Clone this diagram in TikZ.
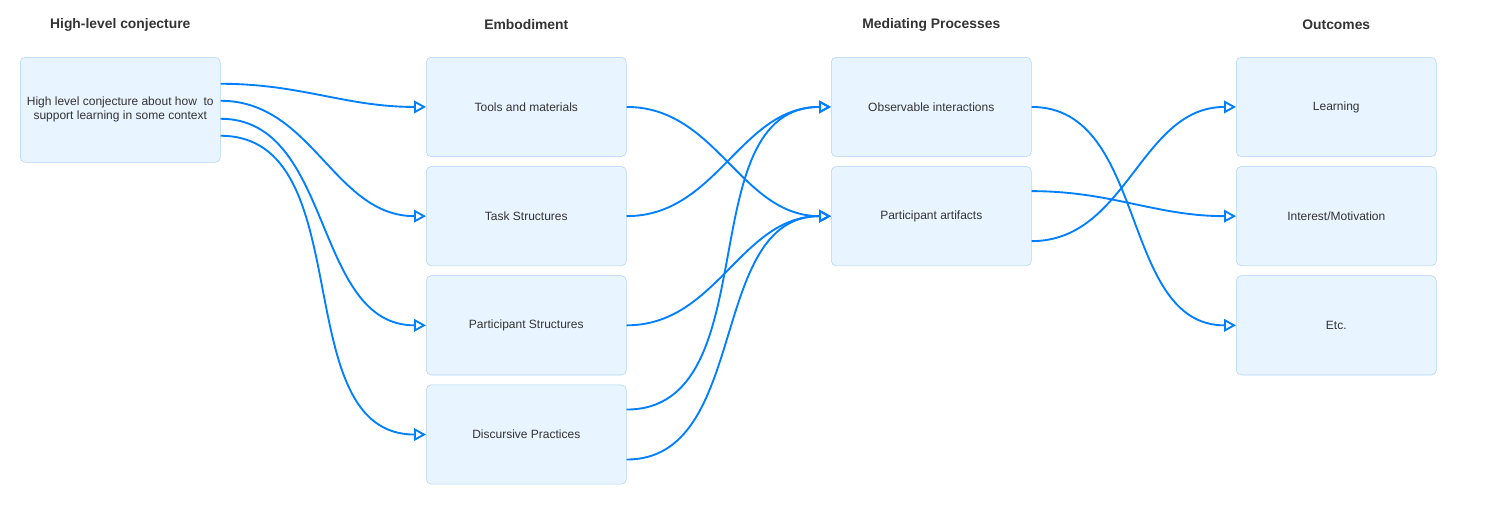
\documentclass[tikz,border=0pt]{standalone}
\usepackage{fontspec}
\setmainfont{Liberation Sans}
\usetikzlibrary{arrows.meta,positioning}
\definecolor{boxfill}{HTML}{E8F4FF}
\definecolor{boxline}{HTML}{B0D4FA}
\definecolor{linkblue}{HTML}{007FFF}
\definecolor{labeltext}{HTML}{333333}
\tikzstyle{conjecture}=[rectangle,rounded corners=3.75pt,draw=boxline,fill=boxfill,thin,
minimum width=150pt,minimum height=78.75pt,inner sep=3pt,align=center,
font=\fontsize{9}{10.5}\selectfont,text=labeltext]
\tikzstyle{design}=[conjecture,minimum height=74.5pt]
\tikzstyle{heading}=[font=\fontsize{10.4}{12}\selectfont\bfseries,text=labeltext]
\tikzstyle{link}=[draw=linkblue,line width=1.4pt,->,out=0,in=180]

\begin{document}
\begin{tikzpicture}[>={Triangle[open,length=9pt,width=9.5pt]},x=0.75pt,y=-0.75pt,node distance=7pt]
    \useasboundingbox (0,0) rectangle (1487,511);

    \node[conjecture,anchor=north west] (conj) at (20,57) {High level conjecture about how\ \ to\\support learning in some context};
    \node[design,anchor=north west] (tools) at (426,57) {Tools and materials};
    \node[design] (task) [below=of tools] {Task Structures};
    \node[design] (pstruct) [below=of task] {Participant Structures};
    \node[design] (disc) [below=of pstruct] {Discursive Practices};
    \node[design,anchor=north west] (observ) at (831,57) {Observable interactions};
    \node[design] (artif) [below=of observ] {Participant artifacts};
    \node[design,anchor=north west] (learn) at (1236,57) {Learning};
    \node[design] (interest) [below=of learn] {Interest/Motivation};
    \node[design] (etc) [below=of interest] {Etc.};

    \node[heading] (h_conj) at (conj.north |- 0,25) {High-level conjecture};
    \node[heading] (h_emb) at (tools.north |- h_conj) {Embodiment};
    \node[heading] (h_med) at (observ.north |- h_conj) {Mediating Processes};
    \node[heading] (h_out) at (learn.north |- h_conj) {Outcomes};

    \draw[link] ([yshift=19.5pt]conj.east) to (tools.west);
    \draw[link] ([yshift=6.75pt]conj.east) to (task.west);
    \draw[link] ([yshift=-6.75pt]conj.east) to (pstruct.west);
    \draw[link] ([yshift=-19.5pt]conj.east) to (disc.west);

    \draw[link] (tools.east) to (artif.west);
    \draw[link] (task.east) to (observ.west);
    \draw[link] (pstruct.east) to (artif.west);
    \draw[link] ([yshift=18.75pt]disc.east) to (observ.west);
    \draw[link] ([yshift=-18.75pt]disc.east) to (artif.west);

    \draw[link] (observ.east) to (etc.west);
    \draw[link] ([yshift=18.75pt]artif.east) to (interest.west);
    \draw[link] ([yshift=-18.75pt]artif.east) to (learn.west);
\end{tikzpicture}
\end{document}
